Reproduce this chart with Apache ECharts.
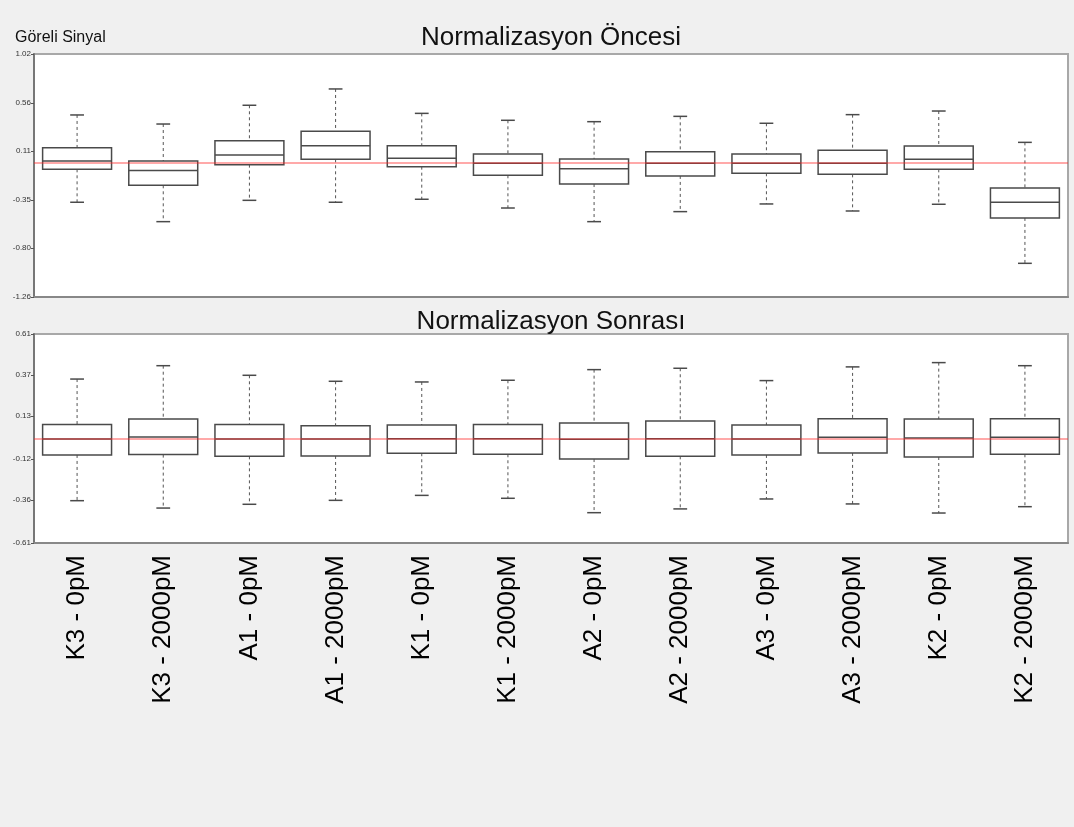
<!DOCTYPE html>
<html>
<head>
<meta charset="utf-8">
<script src="https://cdn.jsdelivr.net/npm/echarts@6/dist/echarts.min.js"></script>
<style>
html,body{margin:0;padding:0;background:#f0f0f0;}
#chart{width:1074px;height:827px;}
</style>
</head>
<body>
<div id="chart"></div>
<script>
// ---- data ----
const categories = ['K3 - 0pM','K3 - 2000pM','A1 - 0pM','A1 - 2000pM','K1 - 0pM','K1 - 2000pM','A2 - 0pM','A2 - 2000pM','A3 - 0pM','A3 - 2000pM','K2 - 0pM','K2 - 2000pM'];
// [lower whisker, Q1, median, Q3, upper whisker]
const beforeBoxes = [
  [-0.371,-0.062, 0.016, 0.141,0.448],
  [-0.553,-0.212,-0.074, 0.016,0.363],
  [-0.353,-0.018, 0.073, 0.207,0.539],
  [-0.371, 0.032, 0.160, 0.295,0.692],
  [-0.343,-0.037, 0.041, 0.160,0.463],
  [-0.425,-0.118,-0.005, 0.082,0.398],
  [-0.553,-0.200,-0.056, 0.035,0.385],
  [-0.459,-0.124,-0.004, 0.104,0.435],
  [-0.387,-0.099,-0.004, 0.082,0.370],
  [-0.453,-0.109,-0.004, 0.116,0.451],
  [-0.390,-0.062, 0.032, 0.157,0.485],
  [-0.944,-0.518,-0.371,-0.237,0.191]
];
const afterBoxes = [
  [-0.363,-0.096,-0.003,0.081,0.347],
  [-0.406,-0.094, 0.009,0.114,0.425],
  [-0.384,-0.104,-0.003,0.081,0.369],
  [-0.361,-0.102,-0.003,0.075,0.334],
  [-0.332,-0.086,-0.001,0.079,0.330],
  [-0.349,-0.092,-0.001,0.081,0.340],
  [-0.433,-0.120,-0.005,0.091,0.402],
  [-0.411,-0.104,-0.001,0.102,0.410],
  [-0.353,-0.096,-0.003,0.079,0.338],
  [-0.382,-0.084, 0.007,0.116,0.418],
  [-0.435,-0.108, 0.003,0.114,0.443],
  [-0.398,-0.092, 0.007,0.116,0.425]
];
const beforeTicks = [1.02, 0.56, 0.11, -0.35, -0.80, -1.26];
const afterTicks = [0.61, 0.37, 0.13, -0.12, -0.36, -0.61];
const referenceValue = 0;
const titles = ['Normalizasyon Öncesi', 'Normalizasyon Sonrası'];
const yAxisName = 'Göreli Sinyal';

// ---- rendering ----
const FONT = '"Liberation Sans", Arial, sans-serif';
const BOX_COLOR = '#4a4a4a';

function renderBox(params, api) {
  const i = api.value(0);
  const lo = api.coord([i, api.value(1)]);
  const q1 = api.coord([i, api.value(2)]);
  const med = api.coord([i, api.value(3)]);
  const q3 = api.coord([i, api.value(4)]);
  const hi = api.coord([i, api.value(5)]);
  const band = api.size([1, 0])[0];
  const bw = band * 0.8;
  const cw = band * 0.16;
  const cx = lo[0];
  const dashed = {stroke: '#555', lineWidth: 1, lineDash: [3, 3]};
  const solid = {stroke: BOX_COLOR, lineWidth: 1.5};
  return {
    type: 'group',
    children: [
      {type: 'line', shape: {x1: cx, y1: hi[1], x2: cx, y2: q3[1]}, style: dashed},
      {type: 'line', shape: {x1: cx, y1: q1[1], x2: cx, y2: lo[1]}, style: dashed},
      {type: 'line', shape: {x1: cx - cw / 2, y1: hi[1], x2: cx + cw / 2, y2: hi[1]}, style: solid},
      {type: 'line', shape: {x1: cx - cw / 2, y1: lo[1], x2: cx + cw / 2, y2: lo[1]}, style: solid},
      {type: 'rect', shape: {x: cx - bw / 2, y: q3[1], width: bw, height: q1[1] - q3[1]},
        style: {fill: '#fff', stroke: BOX_COLOR, lineWidth: 1.5}},
      {type: 'line', shape: {x1: cx - bw / 2, y1: med[1], x2: cx + bw / 2, y2: med[1]}, style: solid}
    ]
  };
}

function yAxisFor(gridIndex, ticks) {
  return {
    type: 'value', gridIndex: gridIndex,
    min: Math.min(...ticks), max: Math.max(...ticks),
    splitLine: {show: false},
    axisLine: {show: true, onZero: false, lineStyle: {color: '#777', width: 2}},
    axisTick: {show: true, length: 3, customValues: ticks, lineStyle: {color: '#555'}},
    axisLabel: {customValues: ticks, fontSize: 8, color: '#333', margin: 3, fontFamily: FONT,
      formatter: v => v.toFixed(2)}
  };
}

const boxSeries = [0, 1].map(g => ({
  type: 'custom', xAxisIndex: g, yAxisIndex: g, z: 2,
  renderItem: renderBox,
  encode: {x: 0, y: [1, 2, 3, 4, 5]},
  data: (g === 0 ? beforeBoxes : afterBoxes).map((b, i) => [i].concat(b)),
  silent: true
}));
const refSeries = [0, 1].map(g => ({
  type: 'line', xAxisIndex: g, yAxisIndex: g, z: 5, data: [], silent: true,
  markLine: {
    silent: true, symbol: 'none', animation: false,
    label: {show: false},
    emphasis: {disabled: true},
    lineStyle: {color: 'rgba(255,40,40,0.4)', width: 2, type: 'solid', opacity: 1},
    data: [{yAxis: referenceValue}]
  }
}));

const chart = echarts.init(document.getElementById('chart'), null, {renderer: 'canvas'});
chart.setOption({
  backgroundColor: '#f0f0f0',
  animation: false,
  title: [
    {text: titles[0], left: 546, top: 20, textAlign: 'center',
      textStyle: {fontSize: 26, fontWeight: 'normal', color: '#111', fontFamily: FONT}},
    {text: titles[1], left: 546, top: 304, textAlign: 'center',
      textStyle: {fontSize: 26, fontWeight: 'normal', color: '#111', fontFamily: FONT}},
    {text: yAxisName, left: 10, top: 25,
      textStyle: {fontSize: 16, fontWeight: 'normal', color: '#111', fontFamily: FONT}}
  ],
  grid: [
    {left: 34, width: 1034, top: 54, height: 243, show: true, backgroundColor: '#fff',
      borderColor: '#a8a8a8', borderWidth: 2},
    {left: 34, width: 1034, top: 334, height: 209, show: true, backgroundColor: '#fff',
      borderColor: '#a8a8a8', borderWidth: 2}
  ],
  xAxis: [
    {type: 'category', gridIndex: 0, data: categories, boundaryGap: true, position: 'bottom',
      axisLine: {show: true, onZero: false, lineStyle: {color: '#888', width: 2}},
      axisTick: {show: false}, axisLabel: {show: false}},
    {type: 'category', gridIndex: 1, data: categories, boundaryGap: true, position: 'bottom',
      axisLine: {show: true, onZero: false, lineStyle: {color: '#888', width: 2}},
      axisTick: {show: false},
      axisLabel: {rotate: 90, interval: 0, fontSize: 26, color: '#000', margin: 12, fontFamily: FONT}}
  ],
  yAxis: [yAxisFor(0, beforeTicks), yAxisFor(1, afterTicks)],
  series: boxSeries.concat(refSeries)
});
</script>
</body>
</html>
